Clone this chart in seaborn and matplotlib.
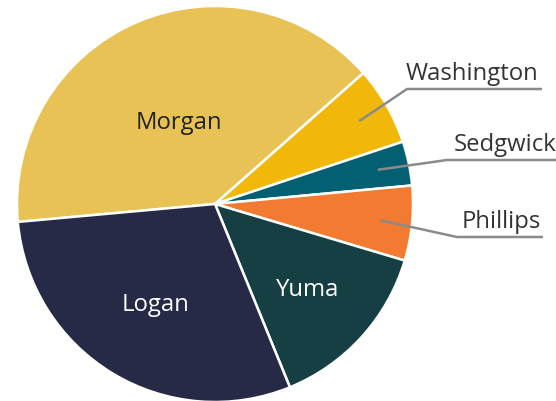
import numpy as np
import matplotlib
matplotlib.use("Agg")
import matplotlib.pyplot as plt
import seaborn as sns

counties = ["Morgan", "Washington", "Sedgwick", "Phillips", "Yuma", "Logan"]
shares = [39.9, 6.4, 3.6, 6.1, 14.2, 29.7]
colors = ["#E8C254", "#F1B80A", "#035F72", "#F27B31", "#153F43", "#262A46"]

sns.set_theme(style="white")
plt.rcParams["font.family"] = ["Open Sans", "DejaVu Sans"]

W, H = 556, 401
fig = plt.figure(figsize=(W / 100, H / 100), dpi=100)
ax = fig.add_axes([0, 0, 1, 1])

cx, cy, R = 215, H - 204, 198
start = 185.2
wedges, _ = ax.pie(shares, colors=colors, startangle=start, counterclock=False,
                   center=(cx, cy), radius=R, frame=True,
                   wedgeprops=dict(edgecolor="white", linewidth=1.8))
ax.set_xlim(0, W)
ax.set_ylim(0, H)
ax.set_aspect("equal")
ax.axis("off")

FS = 17.2
# inside labels
inner = {"Morgan": (0.46, "#222222"), "Yuma": (0.63, "white"), "Logan": (0.58, "white")}
# outside labels: (elbow x, elbow y, line end x, text x) in pixel layout
outer = {"Washington": (407, 89, 542, 406),
         "Sedgwick": (447, 160, 570, 454),
         "Phillips": (457, 237, 543, 462)}

for w, name in zip(wedges, counties):
    mid = np.deg2rad((w.theta1 + w.theta2) / 2)
    if name in inner:
        f, c = inner[name]
        ax.text(cx + f * R * np.cos(mid), cy + f * R * np.sin(mid) - 8.5, name,
                ha="center", va="baseline", fontsize=FS, color=c)
    else:
        ex, ey, lx, tx = outer[name]
        sx, sy = cx + 0.84 * R * np.cos(mid), cy + 0.84 * R * np.sin(mid)
        ax.plot([sx, ex, lx], [sy, H - ey, H - ey], color="#8A8A8A", lw=1.8,
                solid_capstyle="butt", clip_on=False)
        ax.text(tx, H - ey + 9, name, ha="left", va="baseline", fontsize=FS,
                color="#333333")

fig.savefig("out.png", dpi=100)
